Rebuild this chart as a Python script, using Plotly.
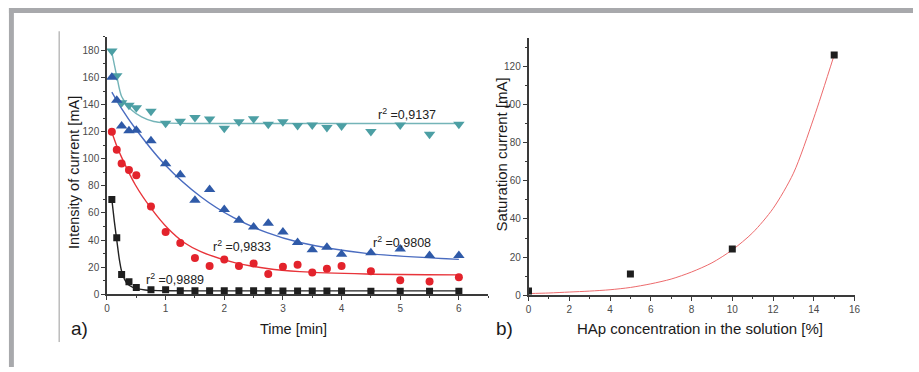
import plotly.graph_objects as go

# ---------------- data: panel a) ----------------
time_min = [0.083, 0.167, 0.25, 0.375, 0.5, 0.75, 1, 1.25, 1.5, 1.75, 2, 2.25, 2.5,
            2.75, 3, 3.25, 3.5, 3.75, 4, 4.5, 5, 5.5, 6]
black_vals = [70, 41.7, 14.6, 9.2, 5.1, 3.4, 3.4, 2.7, 2.7, 2.7, 2.7, 2.7, 2.6, 2.6,
              2.5, 2.5, 2.4, 2.4, 2.4, 2.3, 2.2, 2.2, 2.2]
red_vals = [120, 106.7, 96.6, 91.7, 87.8, 64.8, 45.9, 37.8, 26.7, 20.9, 25.7, 20.9,
            22.8, 15.0, 20.4, 21.8, 16.0, 18.9, 20.9, 17.0, 10.4, 9.5, 12.6]
blue_vals = [160.1, 143.1, 124.2, 120.6, 121.1, 113.3, 96.3, 88.3, 69.4, 77.4, 62.6,
             54.6, 49.7, 52.4, 45.9, 38.3, 32.8, 34.7, 29.6, 30.6, 33.5, 28.6, 28.6]
cyan_vals = [179.5, 161.3, 141.4, 139.5, 137.6, 135.1, 126.2, 127.6, 130.5, 129.3,
             122.5, 127.4, 129.5, 125.4, 127.4, 124.5, 124.9, 123, 124.2, 120.1,
             124.9, 118.1, 125.4]

# fitted curves
black_fit_t = [0.083, 0.125, 0.167, 0.21, 0.25, 0.3, 0.36, 0.45, 0.53, 0.65, 0.76, 1, 2, 3, 4, 5, 6]
black_fit_v = [70, 54, 40, 26, 17, 11, 7.3, 5, 4, 3.2, 2.9, 2.6, 2.5, 2.5, 2.5, 2.5, 2.5]
red_fit_t = [0.083, 0.17, 0.25, 0.48, 0.76, 1.04, 1.32, 1.6, 2.16, 2.73, 3.29, 4.42, 6]
red_fit_v = [119.5, 109, 101, 81, 63, 48.5, 38, 31.5, 23.5, 19, 16.7, 15, 14.3]
blue_fit_t = [0.083, 0.25, 0.48, 0.98, 1.6, 2.16, 2.73, 3.29, 4.42, 6]
blue_fit_v = [149.2, 137, 122.5, 96, 72, 56.5, 45.5, 38.2, 30.2, 25.8]
cyan_fit_t = [0.083, 0.167, 0.25, 0.42, 0.59, 0.8, 1.0, 1.5, 2, 3, 4, 5, 6]
cyan_fit_v = [178.5, 161, 146, 136, 131, 127.5, 126.5, 126, 126, 126, 126, 126, 126]

r2_labels = ["r<sup>2</sup> =0,9137", "r<sup>2</sup> =0,9808",
             "r<sup>2</sup> =0,9833", "r<sup>2</sup> =0,9889"]
r2_x = [4.59, 4.51, 1.77, 0.625]
r2_y = [132.7, 38.8, 35.9, 11.1]

# ---------------- data: panel b) ----------------
hap_conc = [0, 5, 10, 15]
sat_current = [2.2, 11.2, 24.3, 126]
hap_fit_x = [0, 1, 2, 3, 4, 5, 6, 7, 8, 9, 10, 11, 12, 13, 14, 15]
hap_fit_y = [0.9, 1.2, 1.7, 2.2, 2.9, 4.1, 6.0, 8.5, 12.2, 17.0, 23.8, 32.8, 45.5, 64, 93, 126]

FONT = "Arial, Liberation Sans, sans-serif"
C_BLACK = "#1e1e1e"
C_RED = "#e3232c"
C_BLUE = "#2f5aa8"
C_CYAN = "#4c9fa4"

fig = go.Figure()

def scatter(x, y, color, symbol, size, xa="x", ya="y"):
    fig.add_trace(go.Scatter(x=x, y=y, mode="markers", xaxis=xa, yaxis=ya,
                             marker=dict(color=color, symbol=symbol, size=size,
                                         line=dict(width=0)),
                             showlegend=False, hoverinfo="skip"))

def fit(x, y, color, width=1.4, xa="x", ya="y"):
    fig.add_trace(go.Scatter(x=x, y=y, mode="lines", xaxis=xa, yaxis=ya,
                             line=dict(color=color, width=width, shape="spline", smoothing=0.8),
                             showlegend=False, hoverinfo="skip"))

fit(cyan_fit_t, cyan_fit_v, "#74b4b8")
fit(blue_fit_t, blue_fit_v, "#4a6cc0")
fit(red_fit_t, red_fit_v, "#e8343a")
fit(black_fit_t, black_fit_v, "#222222")
scatter(time_min, cyan_vals, C_CYAN, "triangle-down", 10)
scatter(time_min, blue_vals, C_BLUE, "triangle-up", 10)
scatter(time_min, red_vals, C_RED, "circle", 8)
scatter(time_min, black_vals, C_BLACK, "square", 7)

fit(hap_fit_x, hap_fit_y, "#ec6a6c", width=1, xa="x2", ya="y2")
scatter(hap_conc, sat_current, C_BLACK, "square", 7, xa="x2", ya="y2")

W, H = 919, 372
axis_common = dict(showgrid=False, zeroline=False, showline=True, linecolor="#3a3a3a",
                   linewidth=1.5, ticks="outside", ticklen=4, tickwidth=1,
                   tickcolor="#3a3a3a",
                   tickfont=dict(family=FONT, size=10, color="#4a4a4a"))

fig.update_layout(
    width=W, height=H, autosize=False,
    margin=dict(l=0, r=0, t=0, b=0),
    paper_bgcolor="white", plot_bgcolor="white",
    xaxis=dict(domain=[105 / W, 490 / W], range=[0, 6.5], dtick=1, anchor="y",
               minor=dict(ticks="outside", ticklen=2, dtick=0.5, tickcolor="#3a3a3a"),
               **axis_common),
    yaxis=dict(domain=[1 - 298.3 / H, 1 - 37.3 / H], range=[0, 190], dtick=20, anchor="x",
               minor=dict(ticks="outside", ticklen=2, dtick=10, tickcolor="#3a3a3a"),
               **axis_common),
    xaxis2=dict(domain=[530.7 / W, 860 / W], range=[0, 16], dtick=2, anchor="y2",
                minor=dict(ticks="outside", ticklen=2, dtick=1, tickcolor="#3a3a3a"),
                **axis_common),
    yaxis2=dict(domain=[1 - 299.3 / H, 1 - 38.3 / H], range=[0, 135], dtick=20, anchor="x2",
                minor=dict(ticks="outside", ticklen=2, dtick=10, tickcolor="#3a3a3a"),
                **axis_common),
)

# r^2 annotations
for txt, x, y in zip(r2_labels, r2_x, r2_y):
    fig.add_annotation(x=x, y=y, xref="x", yref="y", text=txt, showarrow=False,
                       xanchor="left", yanchor="middle",
                       font=dict(family=FONT, size=12.5, color="#222222"))

def ptext(text, x, y, size, angle=0):
    fig.add_annotation(x=x / W, y=1 - y / H, xref="paper", yref="paper", text=text,
                       showarrow=False, xanchor="center", yanchor="middle", textangle=angle,
                       font=dict(family=FONT, size=size, color="#1a1a1a"))

ptext("Intensity of current [mA]", 71, 175, 14.5, -90)
ptext("Time [min]", 293, 333, 14.5)
ptext("a)", 77, 333, 19)
ptext("Saturation current [mA]", 503.5, 157, 15, -90)
ptext("HAp concentration in the solution [%]", 704, 333, 15)
ptext("b)", 506, 333, 19)

# frame decorations
GRAY = "#a8a9ac"
fig.add_shape(type="rect", xref="paper", yref="paper", x0=6 / W, x1=1, y0=1 - 13.3 / H, y1=1 - 8 / H,
              fillcolor=GRAY, line=dict(width=0))
fig.add_shape(type="rect", xref="paper", yref="paper", x0=6 / W, x1=11 / W, y0=0, y1=1 - 8 / H,
              fillcolor=GRAY, line=dict(width=0))
fig.add_shape(type="line", xref="paper", yref="paper", x0=56.7 / W, x1=56.7 / W,
              y0=1 - 346.7 / H, y1=1 - 31.7 / H, line=dict(color="#9a9a9a", width=1))

fig.write_html("out.html", config={"displayModeBar": False},
               post_script="document.body.style.margin='0';document.body.style.overflow='hidden';")
